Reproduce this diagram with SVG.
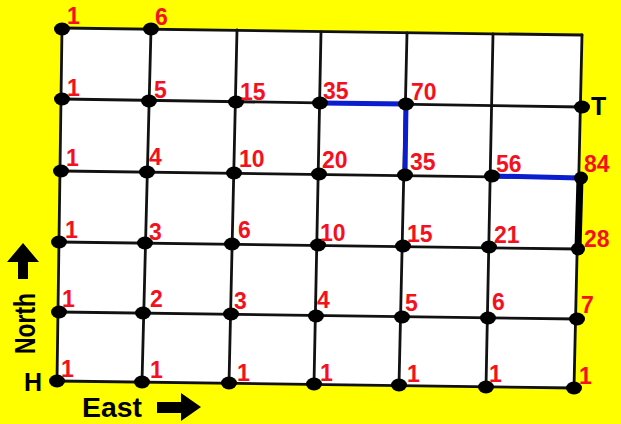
<svg xmlns="http://www.w3.org/2000/svg" width="621" height="424" viewBox="0 0 621 424">
<style>
.g{stroke:#111;stroke-width:2.8;fill:none;stroke-linecap:round}
.d{fill:#000}
.n{font-family:"Liberation Sans",Arial,sans-serif;font-weight:bold;font-size:23px;fill:#f5101e}
.k{font-family:"Liberation Sans",Arial,sans-serif;font-weight:bold;font-size:25px;fill:#000}
</style>
<rect width="621" height="424" fill="#ffff00"/>
<polygon points="62,28 582,35 574,388 57,381" fill="#fff"/>
<g id="connectors">
<line class="g" x1="62" y1="28" x2="582" y2="35"/>
<line class="g" x1="62" y1="99" x2="582" y2="107"/>
<line class="g" x1="62" y1="171" x2="580" y2="178"/>
<line class="g" x1="59" y1="242" x2="578" y2="249"/>
<line class="g" x1="59" y1="312" x2="577" y2="319"/>
<line class="g" x1="57" y1="381" x2="574" y2="388"/>
<line class="g" x1="62" y1="28" x2="57" y2="381"/>
<line class="g" x1="151" y1="29" x2="142" y2="382"/>
<line class="g" x1="237" y1="30" x2="229" y2="383"/>
<line class="g" x1="321" y1="32" x2="314" y2="384"/>
<line class="g" x1="407" y1="33" x2="399" y2="385"/>
<line class="g" x1="493" y1="34" x2="486" y2="387"/>
<line class="g" x1="582" y1="35" x2="574" y2="388"/>
<polyline points="320,103 406,104 405,175" fill="none" stroke="#0a1ed0" stroke-width="5"/>
<line x1="492" y1="176" x2="580" y2="178" stroke="#0a1ed0" stroke-width="5"/>
<line x1="580" y1="178" x2="578" y2="249" stroke="#000" stroke-width="7"/>
</g>
<g id="r0c0"><ellipse class="d" cx="62" cy="29" rx="8" ry="6.5"/><text class="n" x="67" y="24">1</text></g>
<g id="r0c1"><ellipse class="d" cx="151" cy="29" rx="8" ry="6.5"/><text class="n" x="155" y="25">6</text></g>
<g id="r1c0"><ellipse class="d" cx="62" cy="99" rx="8" ry="6.5"/><text class="n" x="67" y="96">1</text></g>
<g id="r1c1"><ellipse class="d" cx="149" cy="101" rx="8" ry="6.5"/><text class="n" x="154" y="98">5</text></g>
<g id="r1c2"><ellipse class="d" cx="236" cy="102" rx="8" ry="6.5"/><text class="n" x="240" y="100">15</text></g>
<g id="r1c3"><ellipse class="d" cx="320" cy="103" rx="8" ry="6.5"/><text class="n" x="323" y="99">35</text></g>
<g id="r1c4"><ellipse class="d" cx="406" cy="104" rx="8" ry="6.5"/><text class="n" x="411" y="100">70</text></g>
<g id="r1c6"><ellipse class="d" cx="582" cy="107" rx="8" ry="6.5"/><text class="k" x="591" y="115">T</text></g>
<g id="r2c0"><ellipse class="d" cx="61" cy="171" rx="8" ry="6.5"/><text class="n" x="66" y="166">1</text></g>
<g id="r2c1"><ellipse class="d" cx="147" cy="172" rx="8" ry="6.5"/><text class="n" x="149" y="165">4</text></g>
<g id="r2c2"><ellipse class="d" cx="234" cy="173" rx="8" ry="6.5"/><text class="n" x="239" y="167">10</text></g>
<g id="r2c3"><ellipse class="d" cx="319" cy="174" rx="8" ry="6.5"/><text class="n" x="322" y="168">20</text></g>
<g id="r2c4"><ellipse class="d" cx="405" cy="175" rx="8" ry="6.5"/><text class="n" x="410" y="170">35</text></g>
<g id="r2c5"><ellipse class="d" cx="492" cy="176" rx="8" ry="6.5"/><text class="n" x="496" y="172">56</text></g>
<g id="r2c6"><ellipse class="d" cx="581" cy="178" rx="7" ry="6.5"/><text class="n" x="584" y="172">84</text></g>
<g id="r3c0"><ellipse class="d" cx="59" cy="242" rx="8" ry="6.5"/><text class="n" x="65" y="238">1</text></g>
<g id="r3c1"><ellipse class="d" cx="145" cy="243" rx="8" ry="6.5"/><text class="n" x="149" y="240">3</text></g>
<g id="r3c2"><ellipse class="d" cx="232" cy="244" rx="8" ry="6.5"/><text class="n" x="238" y="238">6</text></g>
<g id="r3c3"><ellipse class="d" cx="318" cy="245" rx="8" ry="6.5"/><text class="n" x="320" y="241">10</text></g>
<g id="r3c4"><ellipse class="d" cx="403" cy="246" rx="8" ry="6.5"/><text class="n" x="407" y="242">15</text></g>
<g id="r3c5"><ellipse class="d" cx="489" cy="247" rx="8" ry="6.5"/><text class="n" x="494" y="243">21</text></g>
<g id="r3c6"><ellipse class="d" cx="578" cy="249" rx="7" ry="6.5"/><text class="n" x="584" y="247">28</text></g>
<g id="r4c0"><ellipse class="d" cx="59" cy="312" rx="8" ry="6.5"/><text class="n" x="62" y="307">1</text></g>
<g id="r4c1"><ellipse class="d" cx="143" cy="313" rx="8" ry="6.5"/><text class="n" x="150" y="307">2</text></g>
<g id="r4c2"><ellipse class="d" cx="231" cy="314" rx="8" ry="6.5"/><text class="n" x="234" y="309">3</text></g>
<g id="r4c3"><ellipse class="d" cx="316" cy="316" rx="8" ry="6.5"/><text class="n" x="317" y="308">4</text></g>
<g id="r4c4"><ellipse class="d" cx="402" cy="317" rx="8" ry="6.5"/><text class="n" x="405" y="311">5</text></g>
<g id="r4c5"><ellipse class="d" cx="488" cy="318" rx="8" ry="6.5"/><text class="n" x="492" y="310">6</text></g>
<g id="r4c6"><ellipse class="d" cx="577" cy="319" rx="8" ry="6.5"/><text class="n" x="581" y="313">7</text></g>
<g id="r5c0"><ellipse class="d" cx="57" cy="381" rx="8" ry="6.5"/><text class="n" x="61" y="377">1</text><text class="k" x="24" y="391">H</text></g>
<g id="r5c1"><ellipse class="d" cx="142" cy="382" rx="8" ry="6.5"/><text class="n" x="150" y="378">1</text></g>
<g id="r5c2"><ellipse class="d" cx="229" cy="383" rx="8" ry="6.5"/><text class="n" x="237" y="381">1</text></g>
<g id="r5c3"><ellipse class="d" cx="314" cy="384" rx="8" ry="6.5"/><text class="n" x="320" y="381">1</text></g>
<g id="r5c4"><ellipse class="d" cx="399" cy="385" rx="8" ry="6.5"/><text class="n" x="407" y="382">1</text></g>
<g id="r5c5"><ellipse class="d" cx="486" cy="387" rx="8" ry="6.5"/><text class="n" x="489" y="382">1</text></g>
<g id="r5c6"><ellipse class="d" cx="574" cy="388" rx="8" ry="6.5"/><text class="n" x="579" y="384">1</text></g>
<g id="north">
<text class="k" style="font-size:29px" textLength="61" lengthAdjust="spacingAndGlyphs" transform="translate(35,354) rotate(-90)">North</text>
<polygon points="23,243 7,262 18,262 18,279 28,279 28,262 39,262" fill="#000"/>
</g>
<g id="east">
<text class="k" style="font-size:27px" x="82" y="417" textLength="60" lengthAdjust="spacingAndGlyphs">East</text>
<polygon points="157,402 181,402 181,393 201,407 181,421 181,413 157,413" fill="#000"/>
</g>
</svg>
